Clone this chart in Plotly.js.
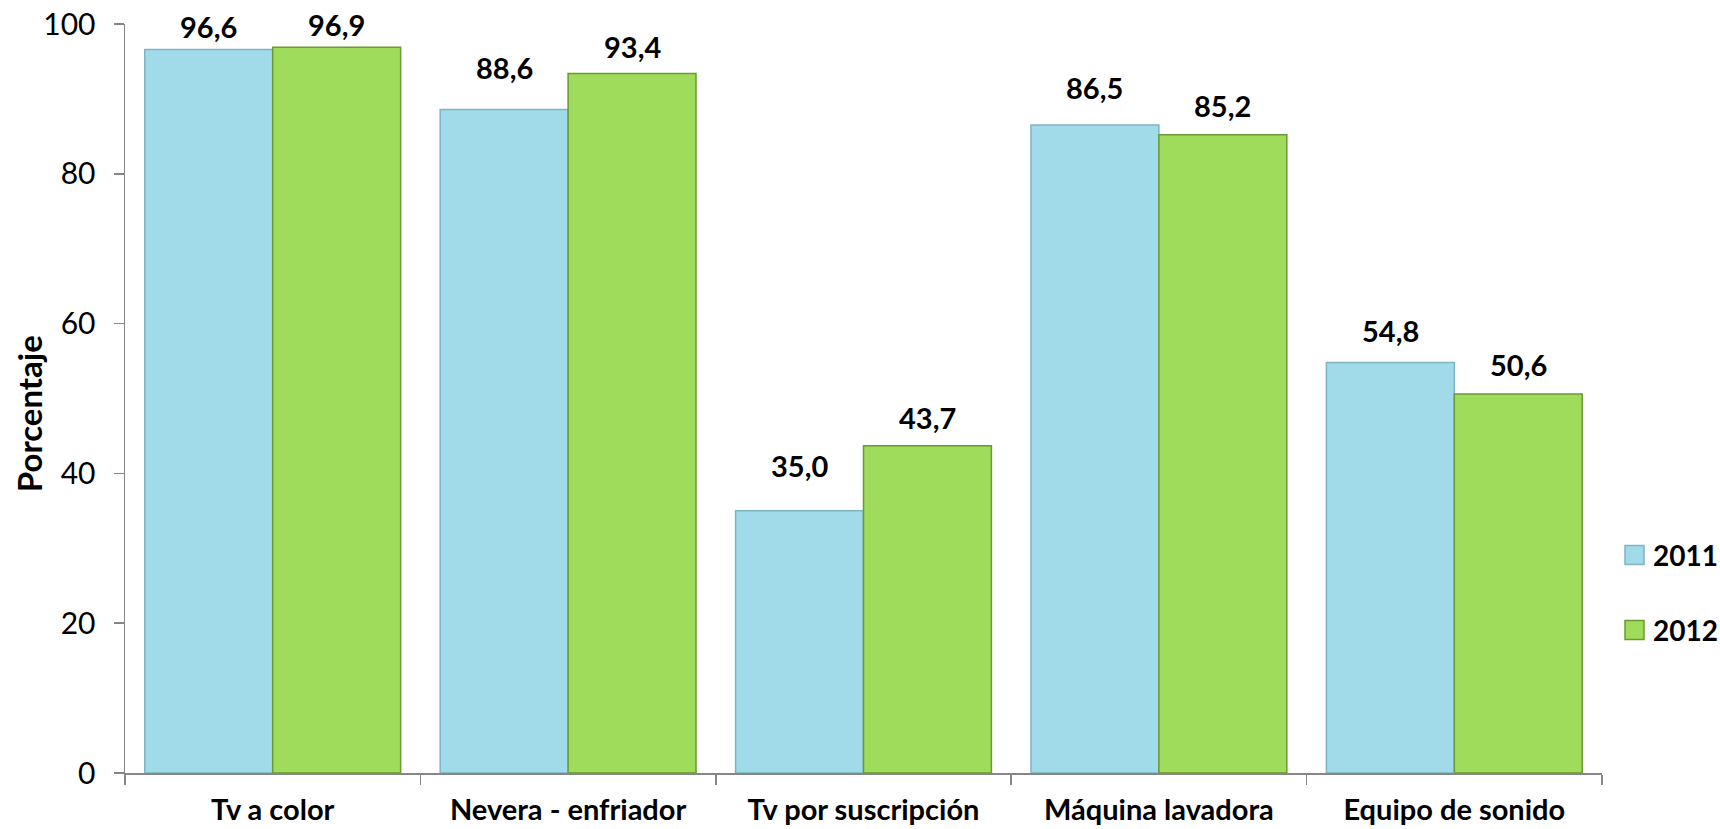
<!DOCTYPE html>
<html>
<head>
<meta charset="utf-8">
<script src="https://cdn.plot.ly/plotly-3.0.1.min.js"></script>
<style>
html,body{margin:0;padding:0;background:#fff;}
#chart{width:1720px;height:829px;}
</style>
</head>
<body>
<div id="chart"></div>
<script>
const categories = ['Tv a color', 'Nevera - enfriador', 'Tv por suscripción', 'Máquina lavadora', 'Equipo de sonido'];
const values2011 = [96.6, 88.6, 35.0, 86.5, 54.8];
const values2012 = [96.9, 93.4, 43.7, 85.2, 50.6];
const seriesNames = ['2011', '2012'];
const yTicks = [0, 20, 40, 60, 80, 100];
const yTitle = 'Porcentaje';

// label lift above bar top (pixels)
const lift2011 = [23, 42, 45, 38, 32];
const lift2012 = [23, 27, 28, 29, 30];

const FONT = 'Lato, "Open Sans", sans-serif';
const BARGAP = 0.134;
const fmt = v => v.toFixed(1).replace('.', ',');

const fills = ['#A1DAE8', '#9FDC5B'];
const edges = ['#7FB3C5', '#6A9A33'];

const traces = [values2011, values2012].map((vals, k) => ({
  type: 'bar', name: seriesNames[k], x: categories, y: vals,
  marker: {color: fills[k], line: {color: edges[k], width: 1.5}},
  hoverinfo: 'none', showlegend: false
}));

const off = (1 - BARGAP) / 4;
const annotations = [];
[[values2011, lift2011, -off], [values2012, lift2012, off]].forEach(([vals, lift, dx]) => {
  vals.forEach((v, i) => {
    annotations.push({
      x: i + dx, y: v, xref: 'x', yref: 'y', text: fmt(v), showarrow: false,
      yshift: lift[i], yanchor: 'middle',
      font: {family: FONT, size: 29, color: '#000', weight: 'bold'}
    });
  });
});

// y-axis title
annotations.push({
  xref: 'paper', yref: 'paper', x: 0, y: 0.479, xshift: -96,
  xanchor: 'center', yanchor: 'middle', textangle: -90, showarrow: false,
  text: yTitle, font: {family: FONT, size: 33, color: '#000', weight: 'bold'}
});

// legend (drawn manually so the swatch size matches)
const shapes = [];
const LEG_Y = 0.241;
seriesNames.forEach((name, k) => {
  const dy = k === 0 ? 37.5 : -37.5;
  shapes.push({
    type: 'rect', xref: 'paper', yref: 'paper',
    xsizemode: 'pixel', ysizemode: 'pixel', xanchor: 1, yanchor: LEG_Y,
    x0: 23, x1: 42, y0: dy - 9.5, y1: dy + 9.5,
    fillcolor: fills[k], line: {color: edges[k], width: 1.5}
  });
  annotations.push({
    xref: 'paper', yref: 'paper', x: 1, y: LEG_Y, xshift: 49, yshift: dy,
    xanchor: 'left', yanchor: 'middle', showarrow: false, text: name,
    font: {family: FONT, size: 28, color: '#000', weight: 'bold'}
  });
});

const layout = {
  width: 1720, height: 829,
  margin: {l: 125, r: 118, t: 24, b: 56},
  paper_bgcolor: '#fff', plot_bgcolor: '#fff',
  barmode: 'group', bargap: BARGAP, bargroupgap: 0,
  font: {family: FONT, color: '#000'},
  showlegend: false,
  xaxis: {
    type: 'category', showgrid: false, zeroline: false,
    showline: true, linecolor: '#868686', linewidth: 1.5,
    ticks: 'outside', tickson: 'boundaries', ticklen: 10, tickcolor: '#868686', tickwidth: 1.5,
    ticklabelstandoff: 11,
    tickfont: {family: FONT, size: 29, color: '#000', weight: 'bold'},
    automargin: false, fixedrange: true
  },
  yaxis: {
    range: [0, 100], tickvals: yTicks, ticktext: yTicks.map(String),
    showgrid: false, zeroline: false,
    showline: true, linecolor: '#868686', linewidth: 1.5,
    ticks: 'outside', ticklen: 10, tickcolor: '#868686', tickwidth: 1.5,
    ticklabelstandoff: 12,
    tickfont: {family: FONT, size: 30, color: '#000'},
    automargin: false, fixedrange: true
  },
  shapes: shapes,
  annotations: annotations
};

Plotly.newPlot('chart', traces, layout, {displayModeBar: false, staticPlot: true});
</script>
</body>
</html>
